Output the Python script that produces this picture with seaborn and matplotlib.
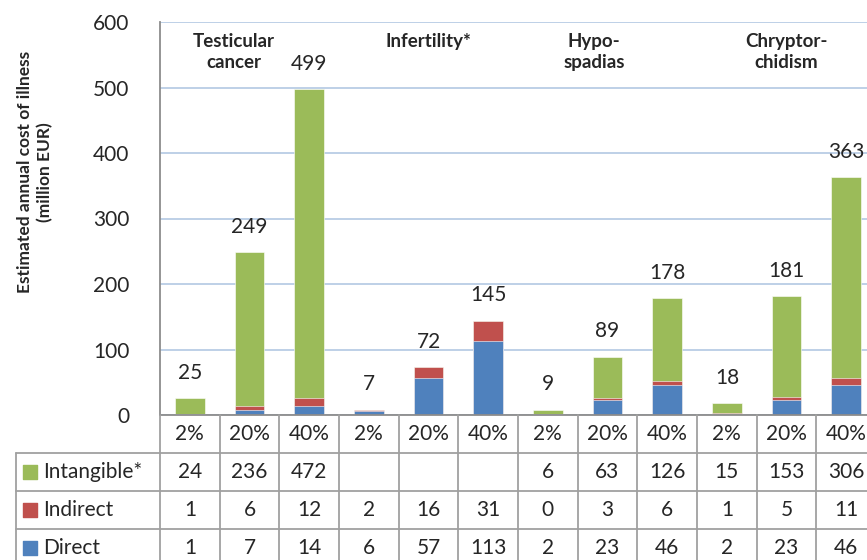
import numpy as np
import pandas as pd
import matplotlib
matplotlib.use("Agg")
import matplotlib.pyplot as plt
import seaborn as sns

# data
groups = ["Testicular\ncancer", "Infertility*", "Hypo-\nspadias", "Chryptor-\nchidism"]
shares = ["2%", "20%", "40%"]
intangible = [24, 236, 472, np.nan, np.nan, np.nan, 6, 63, 126, 15, 153, 306]
indirect = [1, 6, 12, 2, 16, 31, 0, 3, 6, 1, 5, 11]
direct = [1, 7, 14, 6, 57, 113, 2, 23, 46, 2, 23, 46]
totals = [25, 249, 499, 7, 72, 145, 9, 89, 178, 18, 181, 363]

series_names = ["Intangible*", "Indirect", "Direct"]
colors = {"Intangible*": "#9BBB59", "Indirect": "#C0504D", "Direct": "#4F81BD"}

cols = [f"{g.split()[0]} {s}" for g in groups for s in shares]
df = pd.DataFrame({
    "col": cols,
    "share": shares * len(groups),
    "Intangible*": intangible,
    "Indirect": indirect,
    "Direct": direct,
})
df["h_direct"] = df["Direct"]
df["h_indirect"] = df["Direct"] + df["Indirect"]
df["h_total"] = df["h_indirect"] + df["Intangible*"].fillna(0)

sns.set_style("white")
plt.rcParams["font.family"] = ["Lato", "DejaVu Sans"]

W, H = 867, 560
fig = plt.figure(figsize=(W / 100, H / 100), dpi=100)

# main plot area (pixel layout of the reference; right edge runs past the figure)
x0, x1, y_top, y_bot = 160, 876, 22, 415
ax = fig.add_axes([x0 / W, 1 - y_bot / H, (x1 - x0) / W, (y_bot - y_top) / H])

bar_w = 0.5
sns.barplot(data=df, x="col", y="h_total", order=cols, color=colors["Intangible*"],
            width=bar_w, saturation=1, ax=ax, edgecolor="white", linewidth=0.4)
sns.barplot(data=df, x="col", y="h_indirect", order=cols, color=colors["Indirect"],
            width=bar_w, saturation=1, ax=ax, edgecolor="white", linewidth=0.4)
sns.barplot(data=df, x="col", y="h_direct", order=cols, color=colors["Direct"],
            width=bar_w, saturation=1, ax=ax, edgecolor="white", linewidth=0.4)

ax.set_xlim(-0.5, len(cols) - 0.5)
ax.set_ylim(0, 600)
ax.set_yticks(range(0, 601, 100))
ax.set_xticks([])
ax.set_xlabel("")
ax.set_ylabel("")
ax.tick_params(axis="y", length=0, pad=22, labelsize=15)
ax.yaxis.grid(True, color="#B9CDE5", lw=1.3)
ax.set_axisbelow(True)
for side in ["top", "right"]:
    ax.spines[side].set_visible(False)
ax.spines["left"].set_color("#8C8C8C")
ax.spines["bottom"].set_color("#8C8C8C")
ax.spines["left"].set_linewidth(1.3)
ax.spines["bottom"].set_linewidth(1.3)

# total labels above the bars
for i, t in enumerate(totals):
    ax.annotate(str(t), (i, df["h_total"].iloc[i]), xytext=(0, 11),
                textcoords="offset points", ha="center", va="bottom", fontsize=15)

# group names at the top of the plot
group_x = [0.73, 4.0, 6.78, 10.0]
for gx, g in zip(group_x, groups):
    ax.text(gx, 583, g, ha="center", va="top", fontsize=13.5, fontweight="bold",
            linespacing=1.3)

fig.text(35 / W, 1 - 172 / H, "Estimated annual cost of illness\n(million EUR)",
         rotation=90, ha="center", va="center", fontsize=12.5, fontweight="bold",
         linespacing=1.3)

# data table below the chart
tx0 = 16
col_px = (x1 - x0) / len(cols)
left_data = -0.5 - (x0 - tx0) / col_px
row_h = 38
n_rows = 4
tab = fig.add_axes([tx0 / W, 1 - (y_bot + row_h * n_rows) / H, (x1 - tx0) / W, row_h * n_rows / H])
tab.set_xlim(left_data, len(cols) - 0.5)
tab.set_ylim(n_rows, 0)
tab.axis("off")

lc, lw = "#A0A0A0", 1.3
# vertical lines
for b in np.arange(-0.5, len(cols) + 0.5, 1.0):
    tab.plot([b, b], [0, n_rows], color=lc, lw=lw, clip_on=False)
tab.plot([left_data, left_data], [1, n_rows], color=lc, lw=lw, clip_on=False)
# horizontal lines
for r in range(1, n_rows):
    tab.plot([left_data, len(cols) - 0.5], [r, r], color=lc, lw=lw, clip_on=False)

for i, s in enumerate(df["share"]):
    tab.text(i, 0.5, s, ha="center", va="center", fontsize=15)

rows = {"Intangible*": intangible, "Indirect": indirect, "Direct": direct}
for r, name in enumerate(series_names, start=1):
    sq_x = left_data + 14.5 / col_px
    tab.scatter([sq_x], [r + 0.5], marker="s", s=95, color=colors[name], clip_on=False)
    tab.text(left_data + 27 / col_px, r + 0.5, name, ha="left", va="center", fontsize=15)
    for i, v in enumerate(rows[name]):
        if not np.isnan(v):
            tab.text(i, r + 0.5, f"{int(v)}", ha="center", va="center", fontsize=15)

fig.savefig("out.png", dpi=100)
